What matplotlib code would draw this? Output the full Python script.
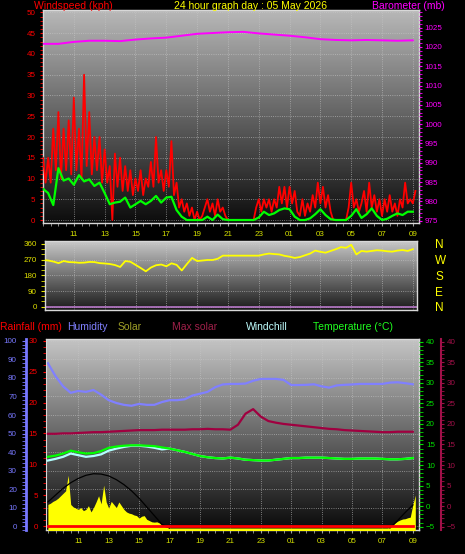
import numpy as np
import matplotlib.pyplot as plt
from matplotlib.colors import LinearSegmentedColormap
from matplotlib.ticker import MultipleLocator

plt.rcParams['font.family'] = ['Liberation Sans', 'DejaVu Sans']

# ------------------------------------------------------------
# data (hours counted from 09:00 on the 4th, 33 = 09:00 on the 5th)
# ------------------------------------------------------------
hour_ticks = [11, 13, 15, 17, 19, 21, 23, 25, 27, 29, 31, 33]
hour_labels = ["11", "13", "15", "17", "19", "21", "23", "01", "03", "05", "07", "09"]

# wind speed kph, 10 minute samples from 09:00
wind_gust = [
    15, 9, 15, 9, 22, 12,
    26, 10, 22, 12, 24, 11,
    29.5, 12, 22, 10, 35, 13,
    26, 11, 20, 12, 20, 9,
    17, 9, 13, 0, 16, 8,
    15, 7, 13, 7, 12, 6,
    10, 7, 12, 6, 10, 8,
    14, 8, 20, 9, 12, 7,
    12, 8, 19, 6, 9, 3,
    5, 2, 4, 1, 3, 0,
    2, 0, 1, 3, 5, 2,
    4, 1, 5, 2, 3, 1,
    0, 0, 0, 0, 0, 0,
    0, 0, 0, 0, 0, 3,
    5, 2, 5, 3, 5, 2,
    5, 3, 8, 4, 8, 3,
    8, 4, 7, 2, 1, 5,
    1, 4, 2, 6, 3, 9,
    4, 8, 3, 6, 2, 0,
    0, 0, 0, 0, 0, 3,
    9, 3, 5, 2, 4, 7,
    2, 9, 3, 6, 2, 5,
    1, 5, 2, 6, 2, 4,
    1, 5, 3, 9, 4, 5,
    4, 7,
]

# average wind kph, 20 minute samples from 09:00
wind_avg = [
    7.5, 6.5, 3.6,
    12.5, 9.5, 10.0,
    8.5, 10.8, 9.3,
    9.8, 8.2, 9.0,
    6.5, 3.8, 4.2,
    4.4, 5.4, 3.0,
    3.8, 4.6, 3.8,
    4.6, 5.8, 4.2,
    5.4, 5.6, 2.4,
    0.8, 0, 0,
    0, 0, 0.8,
    0, 1.3, 0.2,
    0, 0, 0,
    0, 0, 0,
    0.6, 2.0, 1.2,
    1.6, 2.4, 2.8,
    2.6, 0.8, 0,
    0, 0.4, 1.4,
    2.6, 1.2, 0.2,
    0, 0, 0,
    1.0, 2.6, 0.5,
    1.4, 2.8, 1.0,
    0, 0.3, 1.0,
    1.6, 1.2, 2.0,
    2.0,
]

# barometer mb, hourly from 09:00
baro_mb = [1020.8, 1020.8, 1021.3, 1021.6, 1021.6, 1021.5, 1021.9, 1022.2,
           1022.4, 1022.9, 1023.4, 1023.6, 1023.8, 1023.9, 1023.5, 1023.2,
           1022.9, 1022.5, 1022.0, 1021.8, 1021.7, 1021.8, 1021.7, 1021.6,
           1021.7]

# wind direction deg, 20 minute samples from 09:00
wind_dir = [
    268, 265, 259, 250, 262, 256, 255, 252, 253, 257, 256, 250,
    248, 245, 239, 228, 262, 258, 240, 222, 203, 225, 238, 242,
    232, 249, 240, 208, 245, 280, 262, 265, 268, 268, 275, 293,
    293, 293, 293, 293, 293, 293, 293, 300, 305, 302, 300, 292,
    287, 280, 285, 295, 305, 322, 315, 310, 320, 330, 342, 338,
    355, 300, 320, 316, 320, 324, 322, 318, 316, 322, 325, 320,
    330,
]
dir_ticks = [0, 90, 180, 270, 360]
dir_names = ["N", "E", "S", "W", "N"]

# 30 minute samples from 09:00
humidity = [88, 81, 75.5, 72, 73, 72.5, 73.5, 71, 68, 66.5, 65.5, 65,
            66, 65.5, 65.5, 67, 68, 68, 68.5, 70.5, 71.5, 72.5, 75, 76.5,
            76.8, 76.8, 77, 78.5, 79.5, 79.5, 79.5, 79, 76.2, 76.2, 76.3, 76.6,
            75.5, 74.8, 76, 76.3, 76.5, 76.8, 76.8, 76.8, 76.8, 77.5, 77.7, 77.2,
            76.6]
temp_c = [12.0, 12.3, 12.8, 13.5, 13.1, 12.8, 12.9, 13.4, 14.2, 14.5, 14.7, 14.8,
          14.8, 14.7, 14.6, 14.3, 14.0, 13.6, 13.2, 12.7, 12.2, 11.9, 11.7, 11.6,
          11.8, 11.6, 11.3, 11.2, 11.1, 11.1, 11.3, 11.5, 11.7, 11.7, 11.8, 11.8,
          11.8, 11.7, 11.6, 11.5, 11.5, 11.6, 11.6, 11.6, 11.5, 11.4, 11.4, 11.5,
          11.7]
windchill_c = [11.1, 11.5, 12.0, 12.8, 12.4, 12.0, 12.2, 12.6, 13.5, 14.0, 14.4, 14.7,
               14.7, 14.5, 14.2, 13.8, 14.0, 13.6, 13.2, 12.7, 12.2, 11.9, 11.7, 11.6,
               11.8, 11.6, 11.3, 11.2, 11.1, 11.1, 11.3, 11.5, 11.7, 11.7, 11.8, 11.8,
               11.8, 11.7, 11.6, 11.5, 11.5, 11.6, 11.6, 11.6, 11.5, 11.4, 11.4, 11.5,
               11.7]
max_solar_c = [17.6, 17.6, 17.7, 17.7, 17.8, 17.9, 18.0, 18.0, 18.1, 18.2, 18.3, 18.4,
               18.5, 18.5, 18.5, 18.6, 18.6, 18.6, 18.6, 18.7, 18.7, 18.8, 18.7, 18.7,
               18.6, 19.8, 22.5, 23.6, 21.8, 20.7, 20.3, 20.0, 19.8, 19.6, 19.4, 19.2,
               19.0, 18.8, 18.7, 18.5, 18.4, 18.3, 18.2, 18.1, 18.0, 18.0, 18.1, 18.1,
               18.1]
rain_mm = [0.0] * 49
nan = np.nan
solar_curve = [420, 530, 640, 730, 800, 850, 875, 870, 840, 780, 700, 600,
               480, 340, 200, 60, 0,
               nan, nan, nan, nan, nan, nan, nan, nan, nan, nan, nan, nan, nan, nan,
               nan, nan, nan, nan, nan, nan, nan, nan, nan, nan, nan, nan, nan, nan,
               0, 120, 250, 370]

# solar W/m2, 10 minute samples from 09:00
solar_day = [380, 400, 430, 450, 480, 520,
             560, 600, 850, 380, 340, 320,
             300, 330, 280, 300, 360, 260,
             330, 420, 520, 390, 690, 420,
             320, 430, 380, 330, 420, 360,
             300, 260, 240, 230, 210, 200,
             160, 190, 200, 140, 120, 100,
             95, 100, 80, 45, 20, 10,
             0]
solar_night = [0] * 86
solar_morning = [10, 40, 80, 110, 130, 145, 150, 165, 175, 370, 530]
solar_wm2 = solar_day + solar_night + solar_morning

# ------------------------------------------------------------
# time axes
# ------------------------------------------------------------
t10 = 9 + np.arange(len(wind_gust)) / 6
t20 = 9 + np.arange(len(wind_avg)) / 3
t60 = 9 + np.arange(len(baro_mb))
t30 = 9 + np.arange(len(humidity)) / 2
ts = 9 + np.arange(len(solar_wm2)) / 6

W, H = 465, 554
FS = 5.8
tick_yellow = '#d4e000'
grid_kw = dict(color='#c8c8c8', linestyle=':', linewidth=0.6, alpha=0.75)


def box(x0, y0, x1, y1):
    return [x0 / W, 1 - y1 / H, (x1 - x0) / W, (y1 - y0) / H]


def shade(ax, top, bottom):
    cmap = LinearSegmentedColormap.from_list('bg', [bottom, top])
    ax.imshow(np.linspace(1, 0, 256).reshape(-1, 1), cmap=cmap, aspect='auto',
              extent=(0, 1, 0, 1), transform=ax.transAxes, zorder=0)


def frame(ax):
    for s in ax.spines.values():
        s.set_color('#d8d8d8')
        s.set_linewidth(1.0)


def hide_spines(ax):
    for s in ax.spines.values():
        s.set_visible(False)


fig = plt.figure(figsize=(4.65, 5.54), dpi=100, facecolor='black')

# ------------------------------------------------------------
# wind speed + barometer
# ------------------------------------------------------------
ax1 = fig.add_axes(box(43, 10, 419, 223))
shade(ax1, '#b8b8b8', '#0c0c0c')
ax1.plot(t10, wind_gust, color='#ff0000', lw=1.3, zorder=3)
ax1.plot(t20, wind_avg, color='#00ff00', lw=1.6, zorder=4)
ax1.set_xlim(9.0, 33.4)
ax1.set_ylim(-0.72, 50.6)
ax1.set_xticks(hour_ticks)
ax1.set_xticklabels(hour_labels)
ax1.xaxis.set_minor_locator(MultipleLocator(0.5))
ax1.tick_params(axis='x', which='both', colors='#a0a0a0', labelcolor=tick_yellow,
                labelsize=FS, length=2, pad=4)
ax1.set_yticks(range(0, 51, 5))
ax1.yaxis.set_minor_locator(MultipleLocator(1))
ax1.tick_params(axis='y', which='both', colors='#ff0000', labelsize=FS, length=2.5, pad=3)
ax1.grid(True, which='major', **grid_kw)
frame(ax1)

ax1b = ax1.twinx()
ax1b.plot(t60, baro_mb, color='#ff00ff', lw=1.4)
ax1b.set_ylim(974.4, 1029.56)
ax1b.set_yticks(range(975, 1026, 5))
ax1b.yaxis.set_minor_locator(MultipleLocator(1))
ax1b.tick_params(axis='y', which='both', colors='#ff00ff', labelsize=FS, length=2.5, pad=1.5)
hide_spines(ax1b)

# ------------------------------------------------------------
# wind direction
# ------------------------------------------------------------
ax2 = fig.add_axes(box(45, 241, 417, 310))
shade(ax2, '#c8c8c8', '#1a1a1a')
ax2.axhline(0, color='#b878c8', lw=1.2, zorder=2)
ax2.plot(t20, wind_dir, color='#ffff00', lw=1.3, zorder=3)
ax2.set_xlim(9.12, 33.27)
ax2.set_ylim(-19, 377)
ax2.set_xticks(hour_ticks)
ax2.tick_params(axis='x', which='both', length=0, labelbottom=False)
ax2.set_yticks(dir_ticks)
ax2.yaxis.set_minor_locator(MultipleLocator(30))
ax2.tick_params(axis='y', which='both', colors='#e0e000', labelsize=FS, length=3, pad=3)
ax2.grid(True, which='major', **grid_kw)
frame(ax2)

ax2r = ax2.twinx()
ax2r.set_ylim(-19, 377)
ax2r.set_yticks(dir_ticks)
ax2r.set_yticklabels(dir_names)
ax2r.tick_params(axis='y', length=0, pad=13, labelsize=8.5, labelcolor='#ffff00')
hide_spines(ax2r)

# ------------------------------------------------------------
# rain / humidity / solar / temperature
# ------------------------------------------------------------
hum_blue = '#7878ff'
ax3 = fig.add_axes(box(46, 339, 419, 530))
shade(ax3, '#c4c4c4', '#0a0a0a')
ax3.plot(t30, humidity, color='#8080ff', lw=1.6, zorder=3)
ax3.set_xlim(8.875, 33.41)
ax3.set_ylim(-2.16, 101.08)
ax3.set_xticks(hour_ticks)
ax3.set_xticklabels(hour_labels)
ax3.xaxis.set_minor_locator(MultipleLocator(0.5))
ax3.tick_params(axis='x', which='both', colors='#a0a0a0', labelcolor=tick_yellow,
                labelsize=FS, length=2, pad=4)
ax3.set_yticks(range(0, 101, 10))
ax3.yaxis.set_minor_locator(MultipleLocator(2))
ax3.tick_params(axis='y', which='both', colors=hum_blue, labelsize=FS, length=3, pad=3.5)
ax3.grid(True, which='major', **grid_kw)
frame(ax3)
ax3.spines['left'].set_position(('axes', -0.0536))
ax3.spines['left'].set_color(hum_blue)
ax3.spines['left'].set_linewidth(2)

axs = ax3.twinx()
axs.fill_between(ts, solar_wm2, -100, color='#ffff00', lw=0)
axs.plot(t30, solar_curve, color='black', lw=0.9)
axs.set_ylim(-32, 3048)
axs.set_yticks([])
hide_spines(axs)

axr = ax3.twinx()
axr.plot(t30, rain_mm, color='#ff0000', lw=2.0)
axr.set_ylim(-0.6, 30.27)
axr.yaxis.set_ticks_position('left')
axr.set_yticks(range(0, 31, 5))
axr.yaxis.set_minor_locator(MultipleLocator(1))
axr.tick_params(axis='y', which='both', colors='#ff0000', labelsize=FS, length=2.5, pad=3.5)
hide_spines(axr)
axr.spines['left'].set_visible(True)
axr.spines['left'].set_color('#d8d8d8')

crimson = '#a01048'
axm = ax3.twinx()
axm.plot(t30, max_solar_c, color='#a00040', lw=1.6)
axm.set_ylim(-5.8, 40.66)
axm.set_yticks(range(-5, 41, 5))
axm.yaxis.set_minor_locator(MultipleLocator(1))
axm.tick_params(axis='y', which='both', colors=crimson, labelsize=FS, length=2.5, pad=1.5)
hide_spines(axm)
axm.spines['right'].set_visible(True)
axm.spines['right'].set_position(('axes', 1.059))
axm.spines['right'].set_color(crimson)
axm.spines['right'].set_linewidth(1.5)

axt = ax3.twinx()
axt.plot(t30, windchill_c, color='#b0ffff', lw=1.6)
axt.plot(t30, temp_c, color='#00ff00', lw=1.6)
axt.set_ylim(-5.8, 40.66)
axt.set_yticks(range(-5, 41, 5))
axt.yaxis.set_minor_locator(MultipleLocator(1))
axt.tick_params(axis='y', which='both', colors='#00e000', labelsize=FS, length=3, pad=2)
hide_spines(axt)

# ------------------------------------------------------------
# headings
# ------------------------------------------------------------
def label(x, y, s, color, ha='left'):
    fig.text(x / W, 1 - y / H, s, color=color, fontsize=7.5, ha=ha, va='center')


label(34, 6, "Windspeed (kph)", '#ff0000')
label(250, 6, "24 hour graph day : 05 May 2026", '#ffff00', ha='center')
label(372, 6, "Barometer (mb)", '#ff00ff')

label(0, 327, "Rainfall (mm)", '#ff0000')
label(67, 327, "Humidity", '#8080ff')
label(118, 327, "Solar", '#a0a028')
label(172, 327, "Max solar", '#a0204a')
label(246, 327, "Windchill", '#c0ffff')
label(313, 327, "Temperature (°C)", '#20ff20')

fig.savefig('out.png', dpi=100, facecolor='black')
